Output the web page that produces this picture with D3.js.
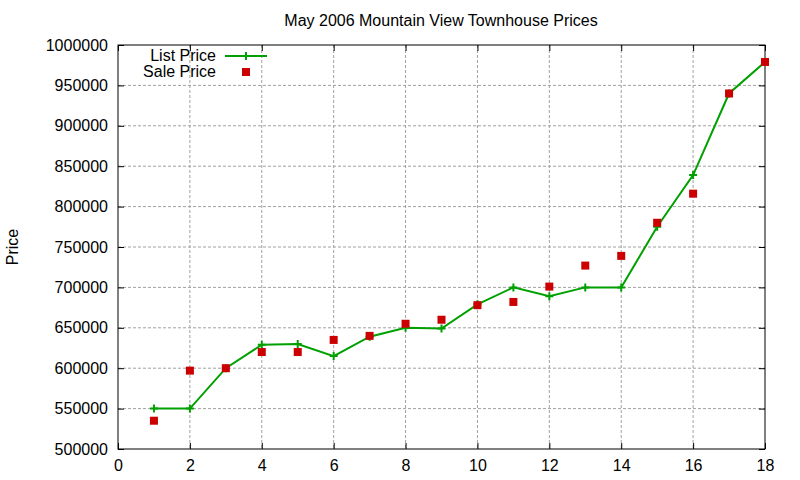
<!DOCTYPE html>
<html>
<head>
<meta charset="UTF-8">
<title>May 2006 Mountain View Townhouse Prices</title>
<script src="https://d3js.org/d3.v7.min.js"></script>
<style>
  body { margin: 0; background: #fff; }
  svg { font-family: "Liberation Sans", Arial, sans-serif; }
</style>
</head>
<body>
<svg width="800" height="480"></svg>
<script>
// data
const houses = [1, 2, 3, 4, 5, 6, 7, 8, 9, 10, 11, 12, 13, 14, 15, 16, 17, 18];
const listPrice = [550000, 550000, 600000, 629000, 630000, 615000, 639000, 650000, 649000,
                   679000, 700000, 689000, 700000, 700000, 775000, 839000, 940000, 979000];
const salePrice = [535000, 597000, 600000, 620000, 620000, 635000, 640000, 655000, 660000,
                   678000, 682000, 701000, 727000, 739000, 780000, 816000, 940000, 979000];
const xTicks = [0, 2, 4, 6, 8, 10, 12, 14, 16, 18];
const yTicks = [500000, 550000, 600000, 650000, 700000, 750000, 800000, 850000, 900000, 950000, 1000000];

const margin = { top: 45, right: 35, bottom: 31, left: 118 },
      width = 800 - margin.left - margin.right,
      height = 480 - margin.top - margin.bottom;

const svg = d3.select("svg");
const g = svg.append("g").attr("transform", `translate(${margin.left},${margin.top})`);

const x = d3.scaleLinear().domain([0, 18]).range([0, width]);
const y = d3.scaleLinear().domain([500000, 1000000]).range([height, 0]);

// grid
g.append("g").selectAll("line").data(xTicks.slice(1, -1)).enter().append("line")
  .attr("x1", d => x(d)).attr("x2", d => x(d)).attr("y1", 0).attr("y2", height)
  .attr("stroke", "#a0a0a0").attr("stroke-dasharray", "3,2");
g.append("g").selectAll("line").data(yTicks.slice(1, -1)).enter().append("line")
  .attr("x1", 0).attr("x2", width).attr("y1", d => y(d)).attr("y2", d => y(d))
  .attr("stroke", "#a0a0a0").attr("stroke-dasharray", "3,2");

// axes, ticks pointing inward on all four sides
const fmt = d3.format("d");
const bottom = g.append("g").attr("transform", `translate(0,${height})`)
  .call(d3.axisBottom(x).tickValues(xTicks).tickSizeInner(-6).tickSizeOuter(0).tickPadding(10));
const left = g.append("g")
  .call(d3.axisLeft(y).tickValues(yTicks).tickFormat(fmt).tickSizeInner(-6).tickSizeOuter(0).tickPadding(10));
g.append("g")
  .call(d3.axisTop(x).tickValues(xTicks).tickSizeInner(-6).tickSizeOuter(0).tickFormat(""));
g.append("g").attr("transform", `translate(${width},0)`)
  .call(d3.axisRight(y).tickValues(yTicks).tickSizeInner(-6).tickSizeOuter(0).tickFormat(""));

svg.selectAll(".domain").remove();
svg.selectAll(".tick line").attr("stroke", "#000");
[bottom, left].forEach(a => a.selectAll("text")
  .attr("font-family", "Liberation Sans, Arial, sans-serif")
  .attr("font-size", "16px").attr("fill", "#000"));
bottom.selectAll("text").attr("dy", "0.75em");

g.append("rect").attr("width", width).attr("height", height)
  .attr("fill", "none").attr("stroke", "#000");

// list price line
const green = "#00a000", red = "#cc0000";
const line = d3.line().x((d, i) => x(houses[i])).y(d => y(d));
g.append("path").datum(listPrice)
  .attr("d", line).attr("fill", "none").attr("stroke", green).attr("stroke-width", 2);

function drawPlus(sel, cx, cy) {
  sel.append("path")
    .attr("d", `M${cx - 4},${cy}H${cx + 4}M${cx},${cy - 4}V${cy + 4}`)
    .attr("stroke", green).attr("stroke-width", 2).attr("fill", "none");
}
listPrice.forEach((v, i) => drawPlus(g, x(houses[i]), y(v)));

// sale price squares
g.selectAll(".sale").data(salePrice).enter().append("rect")
  .attr("class", "sale")
  .attr("x", (d, i) => x(houses[i]) - 4).attr("y", d => y(d) - 4)
  .attr("width", 8).attr("height", 8).attr("fill", red);

// legend
const lg = svg.append("g").attr("font-size", "16px");
lg.append("text").attr("x", 216).attr("y", 61).attr("text-anchor", "end").text("List Price");
lg.append("line").attr("x1", 225).attr("x2", 267).attr("y1", 56).attr("y2", 56)
  .attr("stroke", green).attr("stroke-width", 2);
drawPlus(lg, 246, 56);
lg.append("text").attr("x", 216).attr("y", 77).attr("text-anchor", "end").text("Sale Price");
lg.append("rect").attr("x", 242).attr("y", 68).attr("width", 8).attr("height", 8).attr("fill", red);

// title and y label
svg.append("text").attr("x", 441).attr("y", 26).attr("text-anchor", "middle")
  .attr("font-size", "16px").text("May 2006 Mountain View Townhouse Prices");
svg.append("text").attr("transform", "translate(18,247) rotate(-90)")
  .attr("text-anchor", "middle").attr("font-size", "16px").text("Price");
</script>
</body>
</html>
